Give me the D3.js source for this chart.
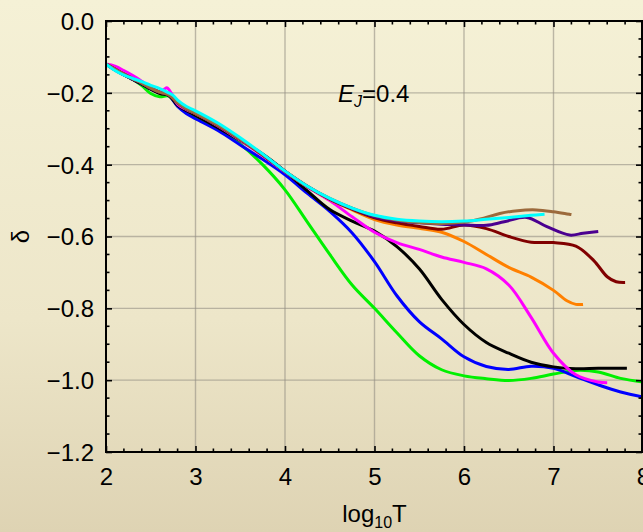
<!DOCTYPE html>
<html>
<head>
<meta charset="utf-8">
<script src="https://cdn.jsdelivr.net/npm/d3@7/dist/d3.min.js"></script>
<style>
  html, body { margin: 0; padding: 0; }
  svg { display: block; font-family: "Liberation Sans", Arial, Helvetica, sans-serif; }
</style>
</head>
<body>
<svg id="chart" width="643" height="532"></svg>
<script>
// δ versus log10 T for E_J = 0.4, one curve per run
const xTicks = [2, 3, 4, 5, 6, 7, 8];
const yTicks = [-1.2, -1.0, -0.8, -0.6, -0.4, -0.2, 0.0];

const green = [[2,-0.12],[2.1,-0.135],[2.2,-0.148],[2.3,-0.162],[2.4,-0.18],[2.5,-0.202],[2.6,-0.211],[2.7,-0.209],[2.8,-0.232],[2.9,-0.25],[3,-0.265],[3.25,-0.3],[3.5,-0.343],[3.75,-0.4],[4,-0.47],[4.25,-0.56],[4.5,-0.65],[4.75,-0.735],[5,-0.8],[5.25,-0.868],[5.5,-0.932],[5.75,-0.971],[6,-0.988],[6.25,-0.996],[6.5,-1.001],[6.75,-0.995],[7,-0.983],[7.25,-0.973],[7.5,-0.977],[7.75,-0.995],[8,-1.005]];
const blue = [[2,-0.12],[2.1,-0.136],[2.2,-0.15],[2.3,-0.163],[2.4,-0.176],[2.5,-0.19],[2.6,-0.2],[2.7,-0.207],[2.8,-0.238],[2.9,-0.258],[3,-0.272],[3.25,-0.305],[3.5,-0.345],[3.75,-0.385],[4,-0.428],[4.25,-0.48],[4.5,-0.53],[4.75,-0.59],[5,-0.67],[5.25,-0.765],[5.5,-0.837],[5.75,-0.885],[6,-0.935],[6.25,-0.962],[6.5,-0.97],[6.75,-0.961],[7,-0.967],[7.25,-0.99],[7.5,-1.013],[7.75,-1.033],[8,-1.047]];
const black = [[2,-0.12],[2.1,-0.136],[2.2,-0.15],[2.3,-0.163],[2.4,-0.176],[2.5,-0.19],[2.6,-0.202],[2.7,-0.207],[2.8,-0.235],[2.9,-0.25],[3,-0.263],[3.25,-0.297],[3.5,-0.333],[3.75,-0.37],[4,-0.418],[4.25,-0.473],[4.5,-0.525],[4.75,-0.557],[5,-0.585],[5.25,-0.628],[5.5,-0.69],[5.75,-0.775],[6,-0.845],[6.25,-0.895],[6.5,-0.925],[6.75,-0.95],[7,-0.963],[7.25,-0.968],[7.5,-0.967],[7.82,-0.967]];
const magenta = [[2,-0.12],[2.1,-0.126],[2.2,-0.138],[2.3,-0.152],[2.4,-0.168],[2.5,-0.185],[2.6,-0.197],[2.65,-0.19],[2.68,-0.186],[2.71,-0.193],[2.75,-0.21],[2.8,-0.232],[2.9,-0.247],[3,-0.258],[3.25,-0.292],[3.5,-0.332],[3.75,-0.375],[4,-0.42],[4.25,-0.462],[4.5,-0.5],[4.75,-0.545],[5,-0.588],[5.25,-0.617],[5.5,-0.636],[5.75,-0.657],[6,-0.672],[6.25,-0.69],[6.5,-0.735],[6.75,-0.825],[7,-0.925],[7.25,-0.985],[7.5,-1.005],[7.6,-1.007]];
const orange = [[2,-0.12],[2.1,-0.134],[2.2,-0.148],[2.3,-0.161],[2.4,-0.173],[2.5,-0.187],[2.6,-0.198],[2.7,-0.205],[2.8,-0.228],[2.9,-0.245],[3,-0.258],[3.25,-0.291],[3.5,-0.33],[3.75,-0.373],[4,-0.419],[4.25,-0.461],[4.5,-0.497],[4.75,-0.526],[5,-0.553],[5.25,-0.568],[5.5,-0.577],[5.75,-0.588],[6,-0.614],[6.25,-0.65],[6.5,-0.686],[6.75,-0.713],[7,-0.75],[7.15,-0.779],[7.25,-0.789],[7.33,-0.789]];
const maroon = [[2,-0.12],[2.1,-0.134],[2.2,-0.148],[2.3,-0.161],[2.4,-0.173],[2.5,-0.187],[2.6,-0.198],[2.7,-0.205],[2.8,-0.228],[2.9,-0.245],[3,-0.258],[3.25,-0.291],[3.5,-0.33],[3.75,-0.373],[4,-0.419],[4.25,-0.461],[4.5,-0.496],[4.75,-0.524],[5,-0.548],[5.25,-0.562],[5.5,-0.572],[5.75,-0.58],[6,-0.568],[6.25,-0.578],[6.5,-0.6],[6.75,-0.616],[7,-0.617],[7.25,-0.627],[7.45,-0.667],[7.6,-0.712],[7.7,-0.726],[7.8,-0.728]];
const purple = [[2,-0.12],[2.1,-0.134],[2.2,-0.148],[2.3,-0.161],[2.4,-0.173],[2.5,-0.187],[2.6,-0.198],[2.7,-0.205],[2.8,-0.228],[2.9,-0.245],[3,-0.257],[3.25,-0.29],[3.5,-0.329],[3.75,-0.372],[4,-0.418],[4.25,-0.46],[4.5,-0.495],[4.75,-0.522],[5,-0.545],[5.25,-0.556],[5.5,-0.562],[5.75,-0.566],[6,-0.568],[6.25,-0.569],[6.45,-0.559],[6.7,-0.547],[6.92,-0.572],[7.18,-0.596],[7.33,-0.591],[7.5,-0.586]];
const brown = [[2,-0.12],[2.1,-0.134],[2.2,-0.148],[2.3,-0.161],[2.4,-0.173],[2.5,-0.187],[2.6,-0.198],[2.7,-0.205],[2.8,-0.228],[2.9,-0.245],[3,-0.257],[3.25,-0.29],[3.5,-0.329],[3.75,-0.372],[4,-0.418],[4.25,-0.46],[4.5,-0.494],[4.75,-0.521],[5,-0.542],[5.25,-0.554],[5.5,-0.561],[5.75,-0.564],[6,-0.56],[6.22,-0.549],[6.4,-0.536],[6.6,-0.528],[6.81,-0.526],[7,-0.531],[7.2,-0.539]];
const cyan = [[2,-0.12],[2.1,-0.138],[2.2,-0.151],[2.3,-0.16],[2.4,-0.169],[2.5,-0.179],[2.6,-0.188],[2.7,-0.2],[2.75,-0.207],[2.8,-0.22],[2.9,-0.238],[3,-0.25],[3.25,-0.284],[3.5,-0.325],[3.75,-0.37],[4,-0.418],[4.25,-0.46],[4.5,-0.494],[4.75,-0.521],[5,-0.541],[5.25,-0.552],[5.5,-0.557],[5.75,-0.559],[6,-0.557],[6.25,-0.552],[6.5,-0.547],[6.75,-0.541],[6.9,-0.538]];

const series = [
  { values: green,   color: "#00f000" },
  { values: blue,    color: "#0000ff" },
  { values: black,   color: "#000000" },
  { values: magenta, color: "#ff00ff" },
  { values: orange,  color: "#ff8000" },
  { values: maroon,  color: "#800000" },
  { values: purple,  color: "#4b0090" },
  { values: brown,   color: "#9c6a3c" },
  { values: cyan,    color: "#00ffff" }
];

const W = 643, H = 532;
const plot = { left: 106, right: 643, top: 21, bottom: 452 };

const svg = d3.select("#chart");

// page background
const defs = svg.append("defs");
const grad = defs.append("linearGradient").attr("id", "bg")
  .attr("x1", 0).attr("y1", 0).attr("x2", 0).attr("y2", 1);
grad.append("stop").attr("offset", "0%").attr("stop-color", "#f5f1d6");
grad.append("stop").attr("offset", "60%").attr("stop-color", "#ede6c9");
grad.append("stop").attr("offset", "100%").attr("stop-color", "#ded3b3");
svg.append("rect").attr("width", W).attr("height", H).attr("fill", "url(#bg)");

defs.append("clipPath").attr("id", "clip").append("rect")
  .attr("x", plot.left).attr("y", plot.top)
  .attr("width", plot.right - plot.left).attr("height", plot.bottom - plot.top);

const x = d3.scaleLinear().domain([2, 8]).range([plot.left, plot.right]);
const y = d3.scaleLinear().domain([-1.2, 0]).range([plot.bottom, plot.top]);

// grid
const grid = svg.append("g").attr("stroke", "#948f84").attr("stroke-opacity", 0.6).attr("stroke-width", 1.4);
grid.selectAll(".gx").data(xTicks.slice(1, -1)).join("line")
  .attr("x1", d => x(d)).attr("x2", d => x(d)).attr("y1", plot.top).attr("y2", plot.bottom);
grid.selectAll(".gy").data(yTicks.slice(1, -1)).join("line")
  .attr("y1", d => y(d)).attr("y2", d => y(d)).attr("x1", plot.left).attr("x2", plot.right);

// curves
const line = d3.line().x(d => x(d[0])).y(d => y(d[1])).curve(d3.curveCatmullRom.alpha(0.5));
svg.append("g").attr("clip-path", "url(#clip)")
  .selectAll("path").data(series).join("path")
  .attr("d", d => line(d.values))
  .attr("fill", "none")
  .attr("stroke", d => d.color)
  .attr("stroke-width", 3)
  .attr("stroke-linejoin", "round")
  .attr("stroke-linecap", "butt");

// axes with inward ticks, mirrored on top/right
const xMinor = d3.range(2, 8.0001, 0.2).filter(v => Math.abs(v - Math.round(v)) > 1e-6);
const yMinor = d3.range(-1.2, 0.0001, 0.05).filter(v => Math.abs(v * 5 - Math.round(v * 5)) > 1e-6);

const axB = svg.append("g").attr("transform", `translate(0,${plot.bottom})`)
  .call(d3.axisBottom(x).tickValues(xTicks).tickSizeInner(-6).tickSizeOuter(0).tickPadding(16).tickFormat(d3.format("d")));
axB.append("g").selectAll("line").data(xMinor).join("line")
  .attr("x1", d => x(d)).attr("x2", d => x(d)).attr("y1", 0).attr("y2", -3.5);

const axT = svg.append("g").attr("transform", `translate(0,${plot.top})`)
  .call(d3.axisTop(x).tickValues(xTicks).tickSizeInner(-6).tickSizeOuter(0).tickFormat(""));
axT.append("g").selectAll("line").data(xMinor).join("line")
  .attr("x1", d => x(d)).attr("x2", d => x(d)).attr("y1", 0).attr("y2", 3.5);

const yFmt = d => (d < 0 ? "\u2212" : "") + Math.abs(d).toFixed(1);
const axL = svg.append("g").attr("transform", `translate(${plot.left},0)`)
  .call(d3.axisLeft(y).tickValues(yTicks).tickSizeInner(-6).tickSizeOuter(0).tickPadding(12).tickFormat(yFmt));
axL.append("g").selectAll("line").data(yMinor).join("line")
  .attr("y1", d => y(d)).attr("y2", d => y(d)).attr("x1", 0).attr("x2", 3.5);

const axR = svg.append("g").attr("transform", `translate(${plot.right - 1},0)`)
  .call(d3.axisRight(y).tickValues(yTicks).tickSizeInner(-6).tickSizeOuter(0).tickFormat(""));
axR.append("g").selectAll("line").data(yMinor).join("line")
  .attr("y1", d => y(d)).attr("y2", d => y(d)).attr("x1", 0).attr("x2", -3.5);

svg.selectAll(".domain").remove();
[axB, axT, axL, axR].forEach(a => {
  a.selectAll("line").attr("stroke", "#000").attr("stroke-width", 1.6);
  a.selectAll("text").attr("fill", "#000").attr("font-size", 24)
    .attr("font-family", "'Liberation Sans', Arial, Helvetica, sans-serif");
});
axL.selectAll("text").attr("dy", "0.35em");

// frame
svg.append("rect")
  .attr("x", plot.left).attr("y", plot.top)
  .attr("width", plot.right - 1 - plot.left).attr("height", plot.bottom - plot.top)
  .attr("fill", "none").attr("stroke", "#000").attr("stroke-width", 2);

// axis titles
const xt = svg.append("text").attr("x", (plot.left + plot.right) / 2).attr("y", 522)
  .attr("text-anchor", "middle").attr("font-size", 24).attr("fill", "#000");
xt.append("tspan").text("log");
xt.append("tspan").attr("font-size", 16).attr("dy", 6).text("10");
xt.append("tspan").attr("dy", -6).text("T");

svg.append("text")
  .attr("transform", `translate(29,${(plot.top + plot.bottom) / 2}) rotate(-90)`)
  .attr("text-anchor", "middle").attr("font-size", 24).attr("fill", "#000")
  .text("\u03b4");

// parameter label
const lab = svg.append("text").attr("x", 338).attr("y", 102).attr("font-size", 24).attr("fill", "#000");
lab.append("tspan").attr("font-style", "italic").text("E");
lab.append("tspan").attr("font-style", "italic").attr("font-size", 16).attr("dy", 5).text("J");
lab.append("tspan").attr("dy", -5).text("=0.4");
</script>
</body>
</html>
